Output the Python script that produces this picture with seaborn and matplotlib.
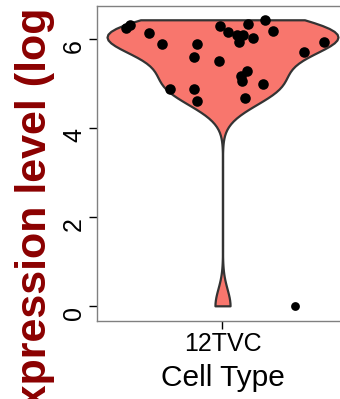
import numpy as np
import pandas as pd
import seaborn as sns
import matplotlib.pyplot as plt

# ---- data ----
cell_type = "12TVC"
expression = [6.25, 6.32, 6.14, 5.89, 5.90, 5.61, 6.30, 6.16, 5.52, 6.10,
              6.10, 5.95, 6.34, 6.44, 6.03, 6.18, 5.71, 5.94, 5.29, 5.17,
              5.07, 4.99, 4.89, 4.89, 4.62, 4.69, 0.01]
jitter = [-0.461, -0.442, -0.350, -0.286, -0.123, -0.135, -0.012, 0.025, -0.015, 0.068,
          0.099, 0.080, 0.123, 0.200, 0.147, 0.240, 0.390, 0.485, 0.119, 0.087,
          0.092, 0.195, -0.251, -0.136, -0.120, 0.108, 0.347]
y_ticks = [0, 2, 4, 6]
x_title = "Cell Type"
y_title = "Expression level (log TPM)"

sns.set_theme(style="white")
plt.rcParams['font.family'] = ['Liberation Sans', 'DejaVu Sans']

W, H = 340, 399
fig = plt.figure(figsize=(W / 100, H / 100), dpi=100)
left, right, top, bottom = 96.5, 348.5, 6.0, 320.5
ax = fig.add_axes([left / W, 1 - bottom / H, (right - left) / W, (bottom - top) / H])

df = pd.DataFrame({"Cell Type": [cell_type] * len(expression), "expr": expression})
sns.violinplot(data=df, x="Cell Type", y="expr", color="#F8766D", saturation=1,
               cut=0, bw_method="scott", bw_adjust=0.6, width=1.1,
               linewidth=1.6, linecolor="#333333", inner=None, ax=ax)

pts = pd.DataFrame({"x": jitter, "y": expression})
big = pts[pts["y"] > 0.5]
small = pts[pts["y"] <= 0.5]
sns.scatterplot(data=big, x="x", y="y", color="black", s=58, linewidth=0, ax=ax, zorder=3)
sns.scatterplot(data=small, x="x", y="y", color="black", s=40, linewidth=0, ax=ax, zorder=3)

ax.set_xlim(-0.6, 0.6)
ax.set_ylim(-0.32, 6.75)
ax.set_yticks(y_ticks)
ax.set_yticklabels([str(t) for t in y_ticks])
ax.set_xticks([0])
ax.set_xticklabels([cell_type])

for sp in ax.spines.values():
    sp.set_color("#808080")
    sp.set_linewidth(1.0)

ax.tick_params(axis="both", which="major", length=6.1, width=1.0, color="black",
               labelcolor="black", left=True, bottom=True)
ax.tick_params(axis="x", labelsize=18, pad=2.5)
ax.tick_params(axis="y", labelsize=18, pad=1.5, labelrotation=90)
for lab in ax.get_yticklabels():
    lab.set_va("top")

ax.set_xlabel(x_title, fontsize=21.5, color="black")
ax.set_ylabel(y_title, fontsize=31, fontweight="bold", color="#8B0000")
ax.xaxis.set_label_coords((222.5 - left) / (right - left), -(364 - bottom) / (bottom - top))
ax.yaxis.set_label_coords(-(left - 55) / (right - left), 0.5)

fig.savefig("out.png", dpi=100)
